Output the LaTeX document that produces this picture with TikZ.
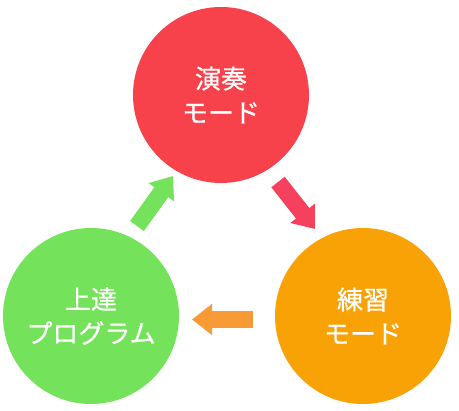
\documentclass[tikz,border=0pt]{standalone}
\usepackage{fontspec}
\newfontfamily\jpfont[FakeBold=0.7]{Noto Sans CJK JP}
\usetikzlibrary{arrows.meta}
\definecolor{cred}{HTML}{F7424B}
\definecolor{cgreen}{HTML}{74E25A}
\definecolor{corange}{HTML}{F8A205}
\definecolor{ared}{HTML}{F5405E}
\definecolor{agreen}{HTML}{74E25A}
\definecolor{aorange}{HTML}{F89A35}
\begin{document}
\begin{tikzpicture}[x=1pt,y=-1pt,
  circ/.style={circle, minimum size=176pt, inner sep=0pt, text=white, align=center,
    font=\jpfont\fontsize{26}{34}\selectfont},
  blockarrow/.style={line width=17pt, -{Triangle[width=30pt,length=20pt]}}]
\useasboundingbox (0,0) rectangle (459,411);
\node[circ, fill=cred] (play) at (221,95) {演奏\\モード};
\node[circ, fill=corange] (practice) at (363,316) {練習\\モード};
\node[circ, fill=cgreen] (program) at (91,316) {上達\\プログラム};
\coordinate (r1) at (278,182);
\coordinate (r2) at (315,229);
\coordinate (o1) at (253,319.5);
\coordinate (o2) at (192,319.5);
\coordinate (g1) at (137,226);
\coordinate (g2) at (173,176);
\draw[blockarrow, draw=ared, fill=ared] (r1) -- (r2);
\draw[blockarrow, draw=aorange, fill=aorange] (o1) -- (o2);
\draw[blockarrow, draw=agreen, fill=agreen] (g1) -- (g2);
\end{tikzpicture}
\end{document}
